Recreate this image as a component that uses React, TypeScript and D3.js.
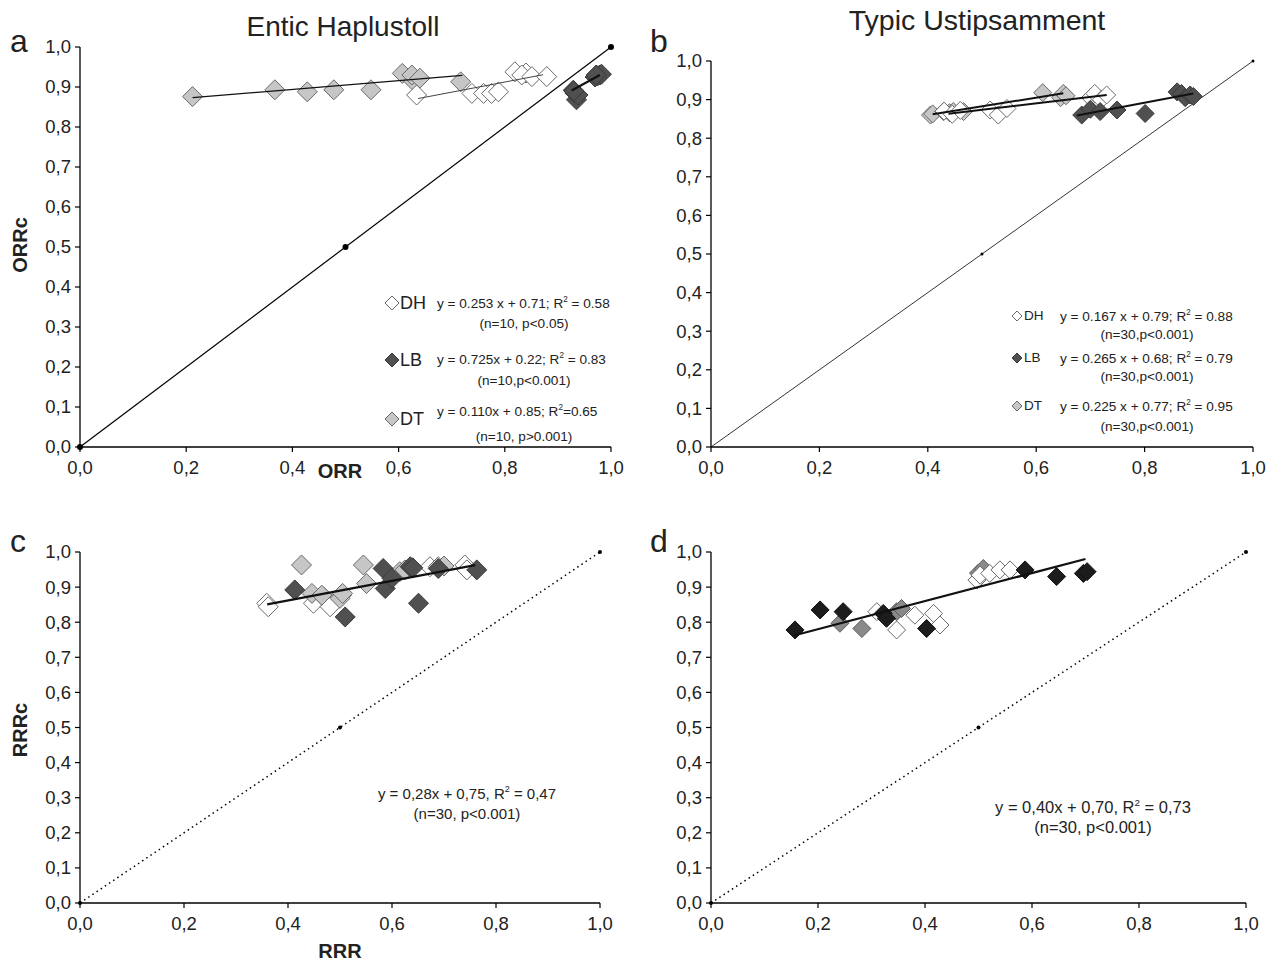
import React from 'react';
import * as d3 from 'd3';

// panel a: Entic Haplustoll, ORRc vs ORR
const aDT = [[0.212, 0.876], [0.367, 0.893], [0.428, 0.888], [0.478, 0.893], [0.548, 0.893], [0.607, 0.934], [0.628, 0.915], [0.625, 0.930], [0.640, 0.922], [0.717, 0.913]];
const aDH = [[0.634, 0.880], [0.738, 0.884], [0.760, 0.884], [0.775, 0.884], [0.788, 0.888], [0.819, 0.938], [0.840, 0.935], [0.832, 0.930], [0.851, 0.926], [0.879, 0.926]];
const aLB = [[0.929, 0.892], [0.935, 0.868], [0.932, 0.885], [0.938, 0.880], [0.930, 0.890], [0.970, 0.925], [0.975, 0.928], [0.979, 0.930], [0.982, 0.932], [0.972, 0.930]];

// panel b: Typic Ustipsamment, ORRc vs ORR
const bDT = [[0.405, 0.860], [0.409, 0.863], [0.429, 0.869], [0.440, 0.866], [0.447, 0.869], [0.466, 0.869], [0.612, 0.918], [0.645, 0.905], [0.650, 0.916], [0.655, 0.910]];
const bDH = [[0.430, 0.870], [0.445, 0.862], [0.460, 0.872], [0.515, 0.873], [0.530, 0.860], [0.546, 0.877], [0.700, 0.905], [0.708, 0.916], [0.720, 0.900], [0.730, 0.912]];
const bLB = [[0.684, 0.860], [0.700, 0.875], [0.718, 0.869], [0.749, 0.873], [0.801, 0.864], [0.860, 0.920], [0.868, 0.916], [0.875, 0.905], [0.884, 0.912], [0.890, 0.908]];

// panel c: Entic Haplustoll, RRRc vs RRR
const cDH = [[0.359, 0.854], [0.362, 0.844], [0.449, 0.854], [0.470, 0.870], [0.481, 0.844], [0.503, 0.877], [0.673, 0.958], [0.689, 0.958], [0.740, 0.963], [0.744, 0.949]];
const cDT = [[0.426, 0.963], [0.446, 0.882], [0.465, 0.877], [0.500, 0.868], [0.505, 0.882], [0.545, 0.963], [0.551, 0.910], [0.615, 0.944], [0.625, 0.949], [0.700, 0.960]];
const cLB = [[0.413, 0.892], [0.510, 0.815], [0.583, 0.953], [0.587, 0.896], [0.600, 0.925], [0.635, 0.958], [0.640, 0.955], [0.651, 0.854], [0.689, 0.953], [0.763, 0.949]];

// panel d: Typic Ustipsamment, RRRc vs RRR
const dDT = [[0.241, 0.797], [0.282, 0.782], [0.347, 0.830], [0.356, 0.839], [0.500, 0.940], [0.509, 0.953]];
const dDH = [[0.310, 0.830], [0.347, 0.778], [0.381, 0.820], [0.416, 0.825], [0.428, 0.792], [0.497, 0.920], [0.503, 0.934], [0.521, 0.939], [0.540, 0.949], [0.559, 0.949]];
const dLB = [[0.157, 0.778], [0.204, 0.835], [0.247, 0.830], [0.322, 0.825], [0.328, 0.811], [0.403, 0.782], [0.587, 0.949], [0.646, 0.930], [0.696, 0.939], [0.703, 0.944]];

// fitted lines: slope, intercept, x from, x to
const aFits = [[0.110, 0.85, 0.212, 0.72], [0.253, 0.71, 0.637, 0.872], [0.725, 0.22, 0.926, 0.979]];
const bFits = [[0.225, 0.77, 0.409, 0.65], [0.167, 0.79, 0.438, 0.73], [0.265, 0.68, 0.675, 0.89]];
const cFits = [[0.28, 0.75, 0.36, 0.76]];
const dFits = [[0.40, 0.70, 0.155, 0.70]];

const yTicks = d3.range(0, 11).map(i => i / 10);
const xTicks = d3.range(0, 6).map(i => i / 5);
const diagDots = [0, 0.5, 1];

const fmt = (v: number) => d3.format('.1f')(v).replace('.', ',');
const FONT = '"Liberation Sans", Arial, Helvetica, sans-serif';

const diamond = (r: number) => `M0,${-r}L${r},0L0,${r}L${-r},0Z`;

function Panel(props: any) {
  const { xr, yr, series, r, fits, fitW, diag } = props;
  const x = d3.scaleLinear().domain([0, 1]).range(xr);
  const y = d3.scaleLinear().domain([0, 1]).range(yr);
  const line = d3.line<number[]>().x(d => x(d[0])).y(d => y(d[1]));
  return (
    <g>
      {/* 1:1 line */}
      <path d={line([[0, 0], [1, 1]]) || ''} stroke="#000" strokeWidth={diag.w}
            strokeDasharray={diag.dash} fill="none"/>
      {diagDots.filter(v => diag.dots.includes(v)).map(v =>
        <circle key={v} cx={x(v)} cy={y(v)} r={diag.r} fill="#000"/>)}
      {series.map((s: any, i: number) => (
        <g key={i}>
          {s.pts.map((p: number[], j: number) =>
            <path key={j} d={diamond(r)} transform={`translate(${x(p[0])},${y(p[1])})`}
                  fill={s.fill} stroke={s.stroke} strokeWidth={1}/>)}
        </g>
      ))}
      {fits.map((f: number[], i: number) =>
        <path key={i} d={line([[f[2], f[0] * f[2] + f[1]], [f[3], f[0] * f[3] + f[1]]]) || ''}
              stroke={fitW[i][1]} strokeWidth={fitW[i][0]} fill="none"/>)}
      {/* axes */}
      <line x1={x(0)} x2={x(0)} y1={y(0)} y2={y(1)} stroke="#000" strokeWidth={1.3}/>
      <line x1={x(0)} x2={x(1)} y1={y(0)} y2={y(0)} stroke="#000" strokeWidth={1.3}/>
      {yTicks.map(t => (
        <g key={'y' + t} transform={`translate(${x(0)},${y(t)})`}>
          <line x1={-5} x2={0} stroke="#000" strokeWidth={1.2}/>
          <text x={-9} dy="0.35em" textAnchor="end" fontSize={18.5} fill="#222">{fmt(t)}</text>
        </g>
      ))}
      {xTicks.map(t => (
        <g key={'x' + t} transform={`translate(${x(t)},${y(0)})`}>
          <line y1={0} y2={5} stroke="#000" strokeWidth={1.2}/>
          <text y={21} dy="0.35em" textAnchor="middle" fontSize={18.5} fill="#222">{fmt(t)}</text>
        </g>
      ))}
    </g>
  );
}

function Eq(props: any) {
  const { x, y, pre, post, size, anchor } = props;
  return (
    <text x={x} y={y} fontSize={size} textAnchor={anchor || 'start'} fill="#222">
      {pre}R<tspan dy={-size * 0.45} fontSize={size * 0.6}>2</tspan><tspan dy={size * 0.45}>{post}</tspan>
    </text>
  );
}

export default function App() {
  const white = { fill: '#fff', stroke: '#6a6a6a' };
  const gray = { fill: '#c6c6c6', stroke: '#6a6a6a' };
  const dark = { fill: '#505050', stroke: '#3a3a3a' };
  const eqS = 13.6;
  return (
    <svg width={1276} height={962} style={{ position: 'absolute', left: 0, top: 0 }} fontFamily={FONT}>
      <rect width={1276} height={962} fill="#fff"/>
      <text x={343} y={36} textAnchor="middle" fontSize={28} fill="#222">Entic Haplustoll</text>
      <text x={977} y={30} textAnchor="middle" fontSize={28.5} fill="#222">Typic Ustipsamment</text>
      <text x={10} y={52} fontSize={32} fill="#222">a</text>
      <text x={650} y={52} fontSize={32} fill="#222">b</text>
      <text x={10} y={552} fontSize={32} fill="#222">c</text>
      <text x={650} y={552} fontSize={32} fill="#222">d</text>

      <Panel xr={[80, 611]} yr={[447, 47]} r={10}
             series={[{ pts: aDT, ...gray }, { pts: aDH, ...white }, { pts: aLB, ...dark }]}
             fits={aFits} fitW={[[1.2, '#111'], [1, '#444'], [2.2, '#111']]}
             diag={{ w: 1.2, dash: null, dots: [0, 0.5, 1], r: 3 }}/>
      <Panel xr={[711, 1253]} yr={[447, 61]} r={9}
             series={[{ pts: bDT, ...gray }, { pts: bDH, ...white }, { pts: bLB, ...dark }]}
             fits={bFits} fitW={[[2, '#111'], [2, '#111'], [2, '#111']]}
             diag={{ w: 0.8, dash: null, dots: [0.5, 1], r: 1.5 }}/>
      <Panel xr={[80, 600]} yr={[903, 552]} r={10}
             series={[{ pts: cDH, ...white }, { pts: cDT, ...gray }, { pts: cLB, ...dark }]}
             fits={cFits} fitW={[[2.2, '#111']]}
             diag={{ w: 1.5, dash: '1.5,3.5', dots: [0, 0.5, 1], r: 2 }}/>
      <Panel xr={[711, 1246]} yr={[903, 552]} r={9}
             series={[{ pts: dDT, fill: '#8a8a8a', stroke: '#5a5a5a' }, { pts: dDH, ...white }, { pts: dLB, fill: '#1c1c1c', stroke: '#111' }]}
             fits={dFits} fitW={[[2.2, '#111']]}
             diag={{ w: 1.5, dash: '1.5,3.5', dots: [0, 0.5, 1], r: 2 }}/>

      {/* axis titles */}
      <text transform="translate(27,245) rotate(-90)" textAnchor="middle" fontSize={20} fontWeight="bold" fill="#222">ORRc</text>
      <text x={340} y={478} textAnchor="middle" fontSize={20} fontWeight="bold" fill="#222">ORR</text>
      <text transform="translate(27,730) rotate(-90)" textAnchor="middle" fontSize={20} fontWeight="bold" fill="#222">RRRc</text>
      <text x={340} y={958} textAnchor="middle" fontSize={20} fontWeight="bold" fill="#222">RRR</text>

      {/* legend a */}
      <path d={diamond(7)} transform="translate(392,303)" {...white} strokeWidth={1}/>
      <text x={400} y={309} fontSize={18} fill="#222">DH</text>
      <Eq x={437} y={308} size={eqS} pre="y = 0.253 x + 0.71; " post=" = 0.58"/>
      <text x={524} y={328} fontSize={eqS} textAnchor="middle" fill="#222">(n=10, p&lt;0.05)</text>
      <path d={diamond(7)} transform="translate(392,360)" fill="#505050" stroke="#3a3a3a"/>
      <text x={400} y={366} fontSize={18} fill="#222">LB</text>
      <Eq x={437} y={364} size={eqS} pre="y = 0.725x + 0.22; " post=" = 0.83"/>
      <text x={524} y={385} fontSize={eqS} textAnchor="middle" fill="#222">(n=10,p&lt;0.001)</text>
      <path d={diamond(7)} transform="translate(392,419)" {...gray} strokeWidth={1}/>
      <text x={400} y={425} fontSize={18} fill="#222">DT</text>
      <Eq x={437} y={416} size={eqS} pre="y = 0.110x + 0.85; " post="=0.65"/>
      <text x={524} y={441} fontSize={eqS} textAnchor="middle" fill="#222">(n=10, p&gt;0.001)</text>

      {/* legend b */}
      <path d={diamond(5)} transform="translate(1017,316)" {...white} strokeWidth={1}/>
      <text x={1024} y={320} fontSize={13.5} fill="#222">DH</text>
      <Eq x={1060} y={321} size={eqS} pre="y = 0.167 x + 0.79; " post=" = 0.88"/>
      <text x={1147} y={339} fontSize={eqS} textAnchor="middle" fill="#222">(n=30,p&lt;0.001)</text>
      <path d={diamond(5)} transform="translate(1017,358)" fill="#505050" stroke="#3a3a3a"/>
      <text x={1024} y={362} fontSize={13.5} fill="#222">LB</text>
      <Eq x={1060} y={363} size={eqS} pre="y = 0.265 x + 0.68; " post=" = 0.79"/>
      <text x={1147} y={381} fontSize={eqS} textAnchor="middle" fill="#222">(n=30,p&lt;0.001)</text>
      <path d={diamond(5)} transform="translate(1017,406)" {...gray} strokeWidth={1}/>
      <text x={1024} y={410} fontSize={13.5} fill="#222">DT</text>
      <Eq x={1060} y={411} size={eqS} pre="y = 0.225 x + 0.77; " post=" = 0.95"/>
      <text x={1147} y={431} fontSize={eqS} textAnchor="middle" fill="#222">(n=30,p&lt;0.001)</text>

      {/* equations c, d */}
      <Eq x={467} y={799} size={15} anchor="middle" pre="y = 0,28x + 0,75, " post=" = 0,47"/>
      <text x={467} y={819} fontSize={15} textAnchor="middle" fill="#222">(n=30, p&lt;0.001)</text>
      <Eq x={1093} y={813} size={16.5} anchor="middle" pre="y = 0,40x + 0,70, " post=" = 0,73"/>
      <text x={1093} y={833} fontSize={16.5} textAnchor="middle" fill="#222">(n=30, p&lt;0.001)</text>
    </svg>
  );
}
